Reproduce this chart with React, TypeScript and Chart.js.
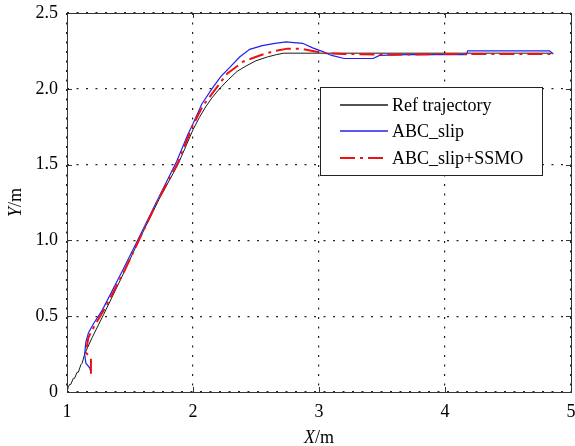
import React, { useEffect, useRef } from "react";
import { Chart, registerables } from "chart.js";
Chart.register(...registerables);

const xTicks = [1, 2, 3, 4, 5];
const yTicks = [0, 0.5, 1.0, 1.5, 2.0, 2.5];
const seriesLabels = ["Ref trajectory", "ABC_slip", "ABC_slip+SSMO"];

const refX = [1.00, 1.01, 1.02, 1.03, 1.05, 1.06, 1.08, 1.09, 1.11, 1.12, 1.14, 1.20, 1.29, 1.43, 1.57, 1.73, 1.88, 2.00, 2.05, 2.10, 2.15, 2.21, 2.28, 2.35, 2.42, 2.50, 2.59, 2.66, 2.72, 3.00, 3.50, 4.00, 4.50, 4.85];
const refY = [0.00, 0.03, 0.05, 0.05, 0.09, 0.09, 0.13, 0.13, 0.18, 0.19, 0.25, 0.36, 0.51, 0.75, 1.00, 1.27, 1.50, 1.73, 1.81, 1.88, 1.94, 2.00, 2.06, 2.115, 2.15, 2.185, 2.21, 2.225, 2.235, 2.235, 2.235, 2.235, 2.235, 2.235];

const abcX = [1.19, 1.18, 1.15, 1.14, 1.15, 1.17, 1.21, 1.28, 1.44, 1.56, 1.72, 1.87, 1.96, 2.00, 2.07, 2.15, 2.22, 2.29, 2.37, 2.45, 2.55, 2.65, 2.74, 2.80, 2.87, 2.95, 3.03, 3.10, 3.20, 3.43, 3.48, 3.70, 4.17, 4.18, 4.83, 4.86];
const abcY = [0.13, 0.16, 0.19, 0.25, 0.33, 0.39, 0.45, 0.54, 0.80, 1.00, 1.27, 1.52, 1.70, 1.77, 1.90, 2.00, 2.08, 2.14, 2.21, 2.26, 2.285, 2.30, 2.31, 2.305, 2.30, 2.27, 2.245, 2.22, 2.20, 2.20, 2.22, 2.225, 2.225, 2.25, 2.25, 2.23];

const ssmoX = [1.19, 1.19, 1.15, 1.17, 1.22, 1.30, 1.45, 1.57, 1.73, 1.88, 1.97, 2.00, 2.08, 2.18, 2.27, 2.40, 2.53, 2.65, 2.75, 2.85, 2.95, 3.05, 3.20, 3.60, 4.00, 4.85];
const ssmoY = [0.12, 0.22, 0.26, 0.36, 0.44, 0.55, 0.79, 1.00, 1.28, 1.51, 1.70, 1.76, 1.89, 2.00, 2.10, 2.18, 2.22, 2.25, 2.265, 2.265, 2.25, 2.235, 2.23, 2.225, 2.23, 2.23];

const seriesColors = ["#1a1a1a", "#2222ee", "#ee1111"];
const seriesWidths = [1, 1.2, 2];
const seriesDashes: number[][] = [[], [], [15, 5, 3, 5]];

const toPts = (xs: number[], ys: number[]) => xs.map((x, i) => ({ x, y: ys[i] }));

const FONT = "'Liberation Serif', 'Times New Roman', serif";
const FS = 18;

const overlay = {
  id: "overlay",
  afterDraw(chart: any) {
    const { ctx, chartArea: a, scales } = chart;
    const xs = scales.x, ys = scales.y;
    ctx.save();
    ctx.strokeStyle = "#333";
    ctx.lineWidth = 1;
    ctx.setLineDash([]);
    ctx.strokeRect(Math.round(a.left) + 0.5, Math.round(a.top) + 0.5, Math.round(a.right - a.left), Math.round(a.bottom - a.top));
    ctx.beginPath();
    xTicks.forEach((v) => {
      const px = Math.round(xs.getPixelForValue(v)) + 0.5;
      ctx.moveTo(px, a.bottom); ctx.lineTo(px, a.bottom - 5);
      ctx.moveTo(px, a.top); ctx.lineTo(px, a.top + 5);
    });
    yTicks.forEach((v) => {
      const py = Math.round(ys.getPixelForValue(v)) + 0.5;
      ctx.moveTo(a.left, py); ctx.lineTo(a.left + 5, py);
      ctx.moveTo(a.right, py); ctx.lineTo(a.right - 5, py);
    });
    ctx.stroke();

    const drawTitle = (v: string, unit: string, cx: number, cy: number, rot: number) => {
      ctx.save();
      ctx.translate(cx, cy);
      ctx.rotate(rot);
      ctx.fillStyle = "#000";
      ctx.textBaseline = "alphabetic";
      ctx.textAlign = "left";
      ctx.font = `italic ${FS}px ${FONT}`;
      const w1 = ctx.measureText(v).width;
      ctx.font = `${FS}px ${FONT}`;
      const w2 = ctx.measureText(unit).width;
      const start = -(w1 + w2) / 2;
      ctx.font = `italic ${FS}px ${FONT}`;
      ctx.fillText(v, start, 0);
      ctx.font = `${FS}px ${FONT}`;
      ctx.fillText(unit, start + w1, 0);
      ctx.restore();
    };
    drawTitle("X", "/m", (a.left + a.right) / 2, 443, 0);
    drawTitle("Y", "/m", 21, (a.top + a.bottom) / 2, -Math.PI / 2);

    const lx = 320, ly = 87, lw = 222, lh = 88;
    ctx.fillStyle = "#fff";
    ctx.fillRect(lx, ly, lw, lh);
    ctx.strokeStyle = "#222";
    ctx.lineWidth = 1;
    ctx.strokeRect(lx + 0.5, ly + 0.5, lw, lh);
    const rows = [105, 131, 158];
    seriesLabels.forEach((label, i) => {
      const y = rows[i];
      ctx.beginPath();
      ctx.strokeStyle = seriesColors[i];
      ctx.lineWidth = Math.max(seriesWidths[i], 1.4);
      ctx.setLineDash(seriesDashes[i]);
      ctx.moveTo(340, y);
      ctx.lineTo(388, y);
      ctx.stroke();
      ctx.setLineDash([]);
      ctx.fillStyle = "#000";
      ctx.font = `${FS}px ${FONT}`;
      ctx.textBaseline = "middle";
      ctx.textAlign = "left";
      ctx.fillText(label, 392, y + 1);
    });
    ctx.restore();
  },
};

export default function App() {
  const ref = useRef<HTMLCanvasElement>(null);
  useEffect(() => {
    if (!ref.current) return;
    const pts = [toPts(refX, refY), toPts(abcX, abcY), toPts(ssmoX, ssmoY)];
    const chart = new Chart(ref.current, {
      type: "scatter",
      data: {
        datasets: seriesLabels.map((label, i) => ({
          label,
          data: pts[i],
          showLine: true,
          borderColor: seriesColors[i],
          borderWidth: seriesWidths[i],
          borderDash: seriesDashes[i],
          pointRadius: 0,
          order: 3 - i,
        })),
      } as any,
      options: {
        animation: false,
        responsive: false,
        layout: { padding: { top: 13, right: 4, left: 0, bottom: 0 } },
        plugins: { legend: { display: false }, tooltip: { enabled: false } },
        scales: {
          x: {
            type: "linear",
            min: 1,
            max: 5,
            afterBuildTicks: (s: any) => { s.ticks = xTicks.map((v) => ({ value: v })); },
            afterFit: (s: any) => { s.height = 54; },
            ticks: { callback: (v: any) => String(v), color: "#000", font: { family: FONT, size: FS }, padding: 9, maxRotation: 0 },
            grid: { color: "#222", lineWidth: 1.2, drawTicks: false },
            border: { display: false, dash: [2, 7.5] },
          },
          y: {
            type: "linear",
            min: 0,
            max: 2.5,
            afterBuildTicks: (s: any) => { s.ticks = yTicks.map((v) => ({ value: v })); },
            afterFit: (s: any) => { s.width = 67; },
            ticks: { callback: (v: any) => (v === 0 ? "0" : Number(v).toFixed(1)), color: "#000", font: { family: FONT, size: FS }, padding: 9 },
            grid: { color: "#222", lineWidth: 1.2, drawTicks: false },
            border: { display: false, dash: [2, 7.5] },
          },
        },
      },
      plugins: [
        {
          id: "fixArea",
          afterLayout(chart: any) {
            const L = 67, T = 13, R = 571, B = 392;
            Object.assign(chart.chartArea, { left: L, top: T, right: R, bottom: B, width: R - L, height: B - T });
            const x = chart.scales.x, y = chart.scales.y;
            x.left = L; x.right = R; x.width = R - L; x.top = B; x.bottom = B + 54; x.height = 54;
            y.left = 0; y.right = L; y.width = L; y.top = T; y.bottom = B; y.height = B - T;
            x.configure();
            y.configure();
          },
        },
        overlay,
      ],
    });
    return () => chart.destroy();
  }, []);
  return (
    <div style={{ position: "fixed", left: 0, top: 0, width: 575, height: 446, background: "#fff" }}>
      <canvas ref={ref} width={575} height={446} style={{ width: 575, height: 446 }} />
    </div>
  );
}
